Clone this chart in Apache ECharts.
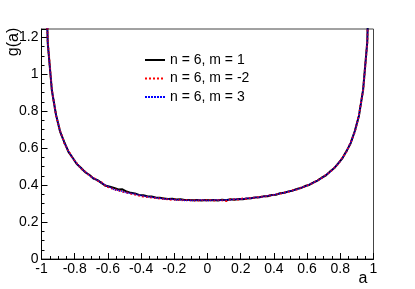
<!DOCTYPE html>
<html><head><meta charset="utf-8">
<script src="https://cdn.jsdelivr.net/npm/echarts@6/dist/echarts.min.js"></script>
<style>html,body{margin:0;padding:0;background:#fff}#c{width:415px;height:289px}</style>
</head><body><div id="c"></div>
<script>
var aValues = [-0.9875,-0.9625,-0.9375,-0.9125,-0.8875,-0.8625,-0.8375,-0.8125,-0.7875,-0.7625,
-0.7375,-0.7125,-0.6875,-0.6625,-0.6375,-0.6125,-0.5875,-0.5625,-0.5375,-0.5125,
-0.4875,-0.4625,-0.4375,-0.4125,-0.3875,-0.3625,-0.3375,-0.3125,-0.2875,-0.2625,
-0.2375,-0.2125,-0.1875,-0.1625,-0.1375,-0.1125,-0.0875,-0.0625,-0.0375,-0.0125,
0.0125,0.0375,0.0625,0.0875,0.1125,0.1375,0.1625,0.1875,0.2125,0.2375,
0.2625,0.2875,0.3125,0.3375,0.3625,0.3875,0.4125,0.4375,0.4625,0.4875,
0.5125,0.5375,0.5625,0.5875,0.6125,0.6375,0.6625,0.6875,0.7125,0.7375,
0.7625,0.7875,0.8125,0.8375,0.8625,0.8875,0.9125,0.9375,0.9625,0.9875];

var gM1 = [2.02,1.17,0.912,0.781,0.688,0.633,0.580,0.548,0.514,0.494,
0.470,0.456,0.436,0.427,0.411,0.396,0.391,0.385,0.376,0.377,
0.365,0.358,0.355,0.347,0.345,0.340,0.338,0.333,0.331,0.328,
0.325,0.326,0.322,0.323,0.319,0.320,0.318,0.319,0.317,0.319,
0.318,0.319,0.317,0.321,0.318,0.323,0.321,0.325,0.324,0.328,
0.329,0.333,0.334,0.339,0.340,0.346,0.348,0.356,0.358,0.366,
0.370,0.379,0.384,0.395,0.401,0.414,0.424,0.440,0.452,0.473,
0.491,0.518,0.545,0.584,0.627,0.693,0.776,0.917,1.175,2.02];

var gM2 = [2.01,1.18,0.916,0.776,0.693,0.627,0.584,0.545,0.518,0.490,
0.473,0.452,0.440,0.424,0.414,0.394,0.386,0.377,0.371,0.364,
0.360,0.354,0.349,0.343,0.338,0.336,0.333,0.330,0.327,0.326,
0.323,0.320,0.322,0.318,0.320,0.317,0.319,0.316,0.319,0.318,
0.319,0.317,0.320,0.318,0.314,0.322,0.323,0.322,0.327,0.326,
0.331,0.331,0.336,0.337,0.343,0.344,0.351,0.353,0.360,0.363,
0.372,0.376,0.386,0.392,0.404,0.412,0.426,0.437,0.455,0.470,
0.493,0.515,0.548,0.581,0.631,0.688,0.780,0.913,1.172,2.03];

var gM3 = [2.02,1.17,0.915,0.779,0.690,0.630,0.582,0.547,0.516,0.492,
0.472,0.454,0.437,0.426,0.412,0.398,0.388,0.375,0.372,0.366,
0.358,0.356,0.352,0.346,0.342,0.337,0.335,0.331,0.329,0.325,
0.324,0.323,0.320,0.321,0.317,0.318,0.316,0.318,0.320,0.317,
0.317,0.320,0.319,0.318,0.321,0.320,0.324,0.323,0.325,0.329,
0.328,0.334,0.333,0.338,0.342,0.345,0.350,0.354,0.359,0.365,
0.371,0.377,0.385,0.393,0.403,0.413,0.425,0.438,0.454,0.471,
0.492,0.517,0.546,0.583,0.629,0.691,0.778,0.916,1.174,2.01];

var seriesNames = ['n = 6, m = 1', 'n = 6, m = -2', 'n = 6, m = 3'];

function pairs(ys){ return aValues.map(function(x,i){ return [x, ys[i]]; }); }

var FONT = 'Liberation Sans, Arial, Helvetica, sans-serif';
var chart = echarts.init(document.getElementById('c'), null, {renderer:'canvas'});
chart.setOption({
  animation: false,
  backgroundColor: '#fff',
  grid: {left: 41.5, right: 41.5, top: 29, bottom: 30, show: true, borderColor: '#444', borderWidth: 1, backgroundColor: 'transparent'},
  legend: {
    orient: 'vertical', left: 139, top: 48, itemWidth: 20, itemHeight: 12, itemGap: 4.5,
    itemStyle: {opacity: 0},
    textStyle: {fontFamily: FONT, fontSize: 14, color: '#000'},
    data: [
      {name: seriesNames[0]},
      {name: seriesNames[1]},
      {name: seriesNames[2], lineStyle: {color: '#0000ff', width: 2, type: [2, 1]}}
    ]
  },
  xAxis: {
    type: 'value', min: -1, max: 1, interval: 0.2,
    axisLine: {show: true, onZero: false, lineStyle: {color: '#000', width: 1}},
    axisTick: {show: true, inside: true, length: 6, lineStyle: {color: '#000'}},
    minorTick: {show: true, splitNumber: 4, length: 3, lineStyle: {color: '#000'}},
    splitLine: {show: false},
    axisLabel: {fontFamily: FONT, fontSize: 14, color: '#000', margin: 3, showMinLabel: true, showMaxLabel: true}
  },
  yAxis: {
    type: 'value', min: 0, max: 1.245, interval: 0.2,
    axisLine: {show: true, onZero: false, lineStyle: {color: '#000', width: 1}},
    axisTick: {show: true, inside: true, length: 6, lineStyle: {color: '#000'}},
    minorTick: {show: true, splitNumber: 4, length: 3, lineStyle: {color: '#000'}},
    splitLine: {show: false},
    axisLabel: {fontFamily: FONT, fontSize: 14, color: '#000', margin: 3, showMaxLabel: false}
  },
  series: [
    {name: seriesNames[0], type: 'line', data: pairs(gM1), showSymbol: false, symbol: 'none', clip: true,
     lineStyle: {color: '#000', width: 2, type: 'solid'}, itemStyle: {color: '#000'}},
    {name: seriesNames[1], type: 'line', data: pairs(gM2), showSymbol: false, symbol: 'none', clip: true,
     lineStyle: {color: '#ff0000', width: 2, type: [2, 2]}, itemStyle: {color: '#ff0000'}},
    {name: seriesNames[2], type: 'line', data: pairs(gM3), showSymbol: false, symbol: 'none', clip: true,
     lineStyle: {color: '#0000ff', width: 1.5, type: [1, 1]}, itemStyle: {color: '#0000ff'}}
  ],
  graphic: [
    {type: 'text', x: 14, y: 42, rotation: Math.PI/2,
     style: {text: 'g(a)', fontFamily: FONT, fontSize: 16, fill: '#000', align: 'center', verticalAlign: 'middle'}},
    {type: 'text', x: 363, y: 279,
     style: {text: 'a', fontFamily: FONT, fontSize: 16, fill: '#000', align: 'center', verticalAlign: 'middle'}}
  ]
});
</script></body></html>
